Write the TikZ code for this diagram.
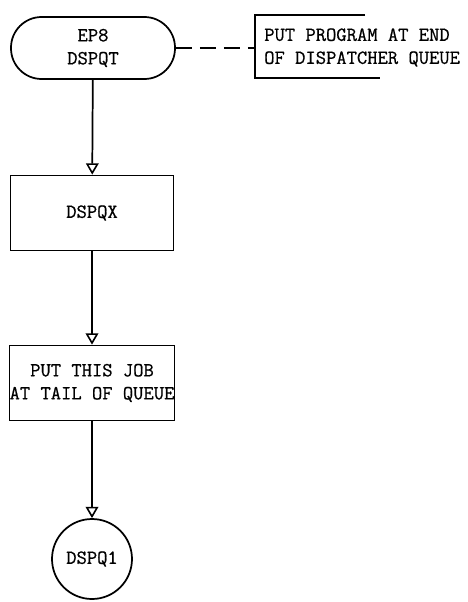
\documentclass[tikz,border=0pt]{standalone}
\usepackage{fontspec}
\newfontfamily\twfont{Latin Modern Mono}[FakeBold=0.7]
\usetikzlibrary{arrows.meta}
\begin{document}
\begin{tikzpicture}[x=0.75pt,y=-0.75pt,
  every node/.style={font=\twfont\fontsize{15pt}{17.25pt}\selectfont, align=center, inner sep=0pt},
  ln/.style={line width=1.3pt},
  procbox/.style={draw, ln, minimum width=122.25pt, minimum height=56.25pt},
  flow/.style={ln, -{Triangle[open, length=8.5pt, width=9.5pt, line width=1.2pt]}}
]
\useasboundingbox (0,0) rectangle (467,602);
\node[draw, ln, rounded corners=23pt, minimum width=123pt, minimum height=46.5pt] (term) at (93,48) {EP8\\DSPQT};
\node[procbox] (b1) at (92,213) {DSPQX};
\node[procbox] (b2) at (92,383) {PUT THIS JOB\\AT TAIL OF QUEUE};
\node[draw, ln, circle, minimum size=60pt] (end) at (92,559) {DSPQ1};
\coordinate (bt) at (365,15);
\coordinate (bl) at (255,15);
\coordinate (bb) at (255,78);
\coordinate (be) at (380,78);
\coordinate (bm) at (255,48);
\draw[ln] (bt) -- (bl) -- (bb) -- (be);
\node[anchor=west, align=left] (note) at (264,47.5) {PUT PROGRAM AT END\\OF DISPATCHER QUEUE};
\draw[ln, dash pattern=on 12pt off 6pt] (term.east) -- (bm);
\draw[flow] (term) -- (b1);
\draw[flow] (b1) -- (b2);
\draw[flow] (b2) -- (end);
\end{tikzpicture}
\end{document}
